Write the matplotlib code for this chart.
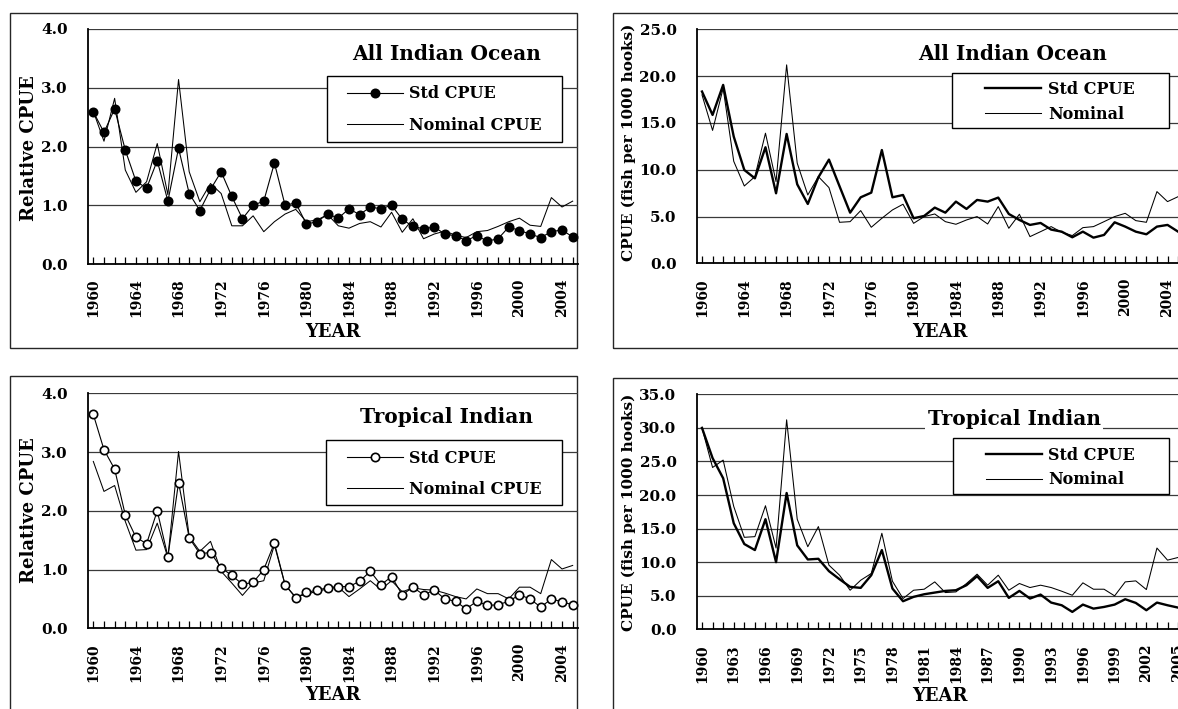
import matplotlib
matplotlib.use("Agg")
import matplotlib.pyplot as plt
from matplotlib.patches import Rectangle
from matplotlib.lines import Line2D
import numpy as np

# ---------------- data ----------------
years = list(range(1960, 2006))

all_rel_std = [2.59, 2.24, 2.64, 1.94, 1.41, 1.29, 1.76, 1.07, 1.97, 1.20,
               0.91, 1.27, 1.57, 1.15, 0.77, 1.00, 1.07, 1.72, 1.00, 1.04,
               0.68, 0.72, 0.85, 0.78, 0.94, 0.84, 0.97, 0.94, 1.00, 0.76,
               0.64, 0.60, 0.63, 0.51, 0.48, 0.40, 0.48, 0.39, 0.43, 0.63,
               0.57, 0.51, 0.45, 0.55, 0.58, 0.46]
all_rel_nom = [2.60, 2.09, 2.82, 1.60, 1.22, 1.40, 2.05, 1.18, 3.14, 1.57,
               1.06, 1.37, 1.20, 0.65, 0.65, 0.82, 0.55, 0.72, 0.85, 0.93,
               0.72, 0.75, 0.84, 0.65, 0.61, 0.69, 0.72, 0.63, 0.88, 0.54,
               0.77, 0.43, 0.51, 0.56, 0.49, 0.45, 0.55, 0.57, 0.64, 0.72,
               0.78, 0.66, 0.64, 1.13, 0.97, 1.07]
all_abs_std = [18.35, 15.85, 19.06, 13.54, 9.97, 9.08, 12.4, 7.48, 13.82, 8.44,
               6.34, 9.19, 11.08, 8.23, 5.41, 7.05, 7.55, 12.1, 7.05, 7.30,
               4.81, 5.06, 5.95, 5.41, 6.59, 5.81, 6.77, 6.59, 7.02, 5.27,
               4.63, 4.10, 4.31, 3.60, 3.38, 2.78, 3.38, 2.74, 3.03, 4.38,
               3.92, 3.38, 3.10, 3.92, 4.10, 3.38]
all_abs_nom = [18.0, 14.2, 18.7, 10.9, 8.26, 9.26, 13.9, 8.73, 21.2, 10.7,
               7.3, 9.26, 8.09, 4.38, 4.45, 5.63, 3.85, 4.81, 5.70, 6.31,
               4.27, 4.99, 5.27, 4.45, 4.17, 4.63, 4.99, 4.20, 6.06, 3.74,
               5.24, 2.85, 3.38, 3.92, 3.31, 2.96, 3.81, 3.92, 4.45, 4.99,
               5.34, 4.56, 4.38, 7.66, 6.59, 7.12]
trop_rel_std = [3.64, 3.04, 2.71, 1.93, 1.55, 1.44, 2.00, 1.22, 2.48, 1.54,
                1.27, 1.29, 1.03, 0.90, 0.75, 0.78, 1.00, 1.45, 0.74, 0.52,
                0.61, 0.65, 0.69, 0.71, 0.71, 0.80, 0.97, 0.74, 0.88, 0.57,
                0.70, 0.57, 0.65, 0.50, 0.46, 0.33, 0.46, 0.39, 0.40, 0.46,
                0.57, 0.50, 0.36, 0.50, 0.45, 0.40]
trop_rel_nom = [2.84, 2.33, 2.43, 1.82, 1.33, 1.34, 1.79, 1.20, 3.01, 1.56,
                1.31, 1.48, 0.97, 0.77, 0.56, 0.77, 0.81, 1.42, 0.74, 0.53,
                0.58, 0.63, 0.67, 0.70, 0.54, 0.67, 0.81, 0.66, 0.81, 0.62,
                0.69, 0.66, 0.65, 0.60, 0.54, 0.50, 0.67, 0.59, 0.59, 0.50,
                0.70, 0.70, 0.59, 1.17, 1.01, 1.07]
trop_abs_std = [30.0, 25.5, 22.5, 15.8, 12.7, 11.8, 16.4, 10.0, 20.3, 12.5,
                10.4, 10.5, 8.66, 7.46, 6.32, 6.17, 8.06, 11.8, 6.07, 4.18,
                4.83, 5.22, 5.47, 5.72, 5.82, 6.57, 7.91, 6.17, 7.16, 4.68,
                5.72, 4.58, 5.17, 3.98, 3.58, 2.59, 3.68, 3.08, 3.33, 3.68,
                4.48, 3.93, 2.84, 3.98, 3.58, 3.23]
trop_abs_nom = [30.0, 24.1, 25.2, 18.3, 13.7, 13.8, 18.4, 12.1, 31.2, 16.4,
                12.3, 15.3, 9.55, 8.06, 5.82, 7.31, 8.31, 14.3, 7.16, 4.58,
                5.82, 5.97, 7.06, 5.47, 5.57, 6.82, 8.21, 6.57, 8.06, 5.82,
                6.82, 6.22, 6.57, 6.22, 5.67, 5.07, 6.92, 5.97, 5.97, 4.98,
                7.06, 7.21, 5.92, 12.1, 10.3, 10.7]

titles = ["All Indian Ocean", "All Indian Ocean", "Tropical Indian", "Tropical Indian"]
ylabels = ["Relative CPUE", "CPUE (fish per 1000 hooks)",
           "Relative CPUE", "CPUE (fish per 1000 hooks)"]
legend_left = ["Std CPUE", "Nominal CPUE"]
legend_right = ["Std CPUE", "Nominal"]
xlabel = "YEAR"

# ---------------- layout helpers ----------------
W, H, DPI = 1178, 709, 100
plt.rcParams["font.family"] = "DejaVu Serif"
fig = plt.figure(figsize=(W / DPI, H / DPI), dpi=DPI)
fig.patch.set_facecolor("white")


def fx(x):
    return x / W


def fy(y):
    return 1 - y / H


def add_axes(left, right, top, bottom):
    return fig.add_axes([fx(left), fy(bottom), (right - left) / W, (bottom - top) / H])


panels = [
    dict(box=(10, 12.7, 577, 348), ax=(88, 578, 29, 264), ymax=4.0, ystep=1.0,
         std=all_rel_std, nom=all_rel_nom, kind="left", mfc="black", lstep=4,
         title=titles[0], tpos=(446.5, 59.5), ylab=ylabels[0], ylx=29, yly=148,
         xly=332, leg=(326.5, 76, 561.5, 141.7), lhx=346.7, rows=(93, 126),
         labels=legend_left),
    dict(box=(613, 12.7, 1195, 348), ax=(696.7, 1183.4, 29.3, 263.3), ymax=25.0, ystep=5.0,
         std=all_abs_std, nom=all_abs_nom, kind="right", lstep=4,
         title=titles[1], tpos=(1013, 60), ylab=ylabels[1], ylx=629, yly=142,
         xly=332, leg=(952, 72.7, 1168.7, 128.3), lhx=985.3, rows=(88.3, 115),
         labels=legend_right),
    dict(box=(10, 376, 577, 715), ax=(88, 578, 393.3, 628.3), ymax=4.0, ystep=1.0,
         std=trop_rel_std, nom=trop_rel_nom, kind="left", mfc="white", lstep=4,
         title=titles[2], tpos=(447, 423), ylab=ylabels[2], ylx=29, yly=510,
         xly=695, leg=(326, 439.7, 562, 505.3), lhx=346.7, rows=(457.7, 490),
         labels=legend_left),
    dict(box=(613, 378, 1195, 715), ax=(696.7, 1183.4, 394.3, 629.3), ymax=35.0, ystep=5.0,
         std=trop_abs_std, nom=trop_abs_nom, kind="right", lstep=3,
         title=titles[3], tpos=(1014, 425.3), ylab=ylabels[3], ylx=629, yly=512,
         xly=696, leg=(952.7, 438, 1169, 494), lhx=986, rows=(454.3, 480.7),
         labels=legend_right),
]

PX = DPI / 72.0  # pixels per point
LEG_FS = 11.5
TITLE_FS = 14.5

for p in panels:
    # outer chart-area frame
    bx0, by0, bx1, by1 = p["box"]
    fig.add_artist(Rectangle((fx(bx0), fy(by1)), (bx1 - bx0) / W, (by1 - by0) / H,
                             transform=fig.transFigure, fill=False,
                             ec="#262626", lw=1.0, zorder=0))

    l, r, t, b = p["ax"]
    ax = add_axes(l, r, t, b)
    ax.set_facecolor("none")

    if p["kind"] == "left":
        ax.plot(years, p["nom"], color="black", lw=0.75, zorder=2)
        ax.plot(years, p["std"], color="black", lw=0.8, marker="o", ms=6,
                mfc=p["mfc"], mec="black", mew=1.2, zorder=3, clip_on=False)
    else:
        ax.plot(years, p["nom"], color="black", lw=0.75, zorder=2)
        ax.plot(years, p["std"], color="black", lw=1.7, zorder=3)

    ax.set_xlim(1959.5, 2005.5)
    ax.set_ylim(0, p["ymax"])
    yt = np.arange(0, p["ymax"] + 1e-9, p["ystep"])
    ax.set_yticks(yt)
    ax.set_yticklabels([f"{v:.1f}" for v in yt])
    ax.set_xticks(years)
    ax.set_xticklabels([str(y) if (y - 1960) % p["lstep"] == 0 else "" for y in years],
                       rotation=90)
    ax.yaxis.grid(True, color="#3a3a3a", lw=0.9)
    ax.set_axisbelow(True)
    for s in ("top", "right"):
        ax.spines[s].set_visible(False)
    ax.spines["left"].set_linewidth(1.3)
    ax.spines["bottom"].set_linewidth(1.3)
    ax.tick_params(axis="x", direction="in", length=5, width=0.9, pad=10.5,
                   labelsize=10, top=False)
    ax.tick_params(axis="y", length=0, pad=14.5, labelsize=11)
    for lab in ax.get_xticklabels() + ax.get_yticklabels():
        lab.set_fontweight("bold")

    # axis labels
    ax.set_xlabel(xlabel, fontsize=13, fontweight="bold")
    ax.xaxis.label.set_va("center")
    ax.xaxis.set_label_coords(0.5, (b - p["xly"]) / (b - t))
    ax.set_ylabel(p["ylab"], fontsize=13 if p["kind"] == "left" else 11,
                  fontweight="bold")
    ax.yaxis.label.set_va("center")
    ax.yaxis.set_label_coords((p["ylx"] - l) / (r - l), (b - p["yly"]) / (b - t))

    # title
    tx, tyb = p["tpos"]
    fig.text(fx(tx), fy(tyb), p["title"], ha="center", va="baseline",
             fontsize=TITLE_FS, fontweight="bold", zorder=3,
             bbox=dict(fc="white", ec="none", pad=1.5))

    # legend frame
    lx0, ly0, lx1, ly1 = p["leg"]
    fig.add_artist(Rectangle((fx(lx0), fy(ly1)), (lx1 - lx0) / W, (ly1 - ly0) / H,
                             transform=fig.transFigure, fc="white", ec="black",
                             lw=1.0, zorder=4))
    if p["kind"] == "left":
        h_std = Line2D([], [], color="black", lw=0.8, marker="o", ms=6,
                       mfc=p["mfc"], mec="black", mew=1.2)
        h_nom = Line2D([], [], color="black", lw=0.75)
    else:
        h_std = Line2D([], [], color="black", lw=1.7)
        h_nom = Line2D([], [], color="black", lw=0.75)
    fs_px = LEG_FS * PX
    r1, r2 = p["rows"]
    row_h = 1.17 * fs_px
    ls = ((r2 - r1) - row_h) / fs_px
    fig.legend([h_std, h_nom], p["labels"], loc="center left",
               bbox_to_anchor=(fx(p["lhx"]), fy((r1 + r2) / 2)),
               bbox_transform=fig.transFigure, frameon=False,
               borderpad=0, borderaxespad=0,
               handlelength=56 / fs_px, handletextpad=6.5 / fs_px,
               labelspacing=ls,
               prop=dict(size=LEG_FS, weight="bold")).set_zorder(5)

fig.savefig("out.png", dpi=DPI, facecolor="white")
